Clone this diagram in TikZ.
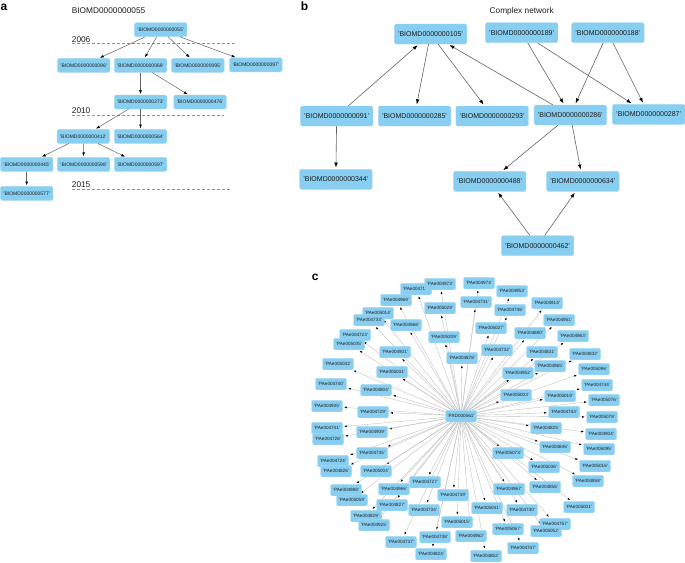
\documentclass[tikz,border=0pt]{standalone}
\usepackage{fontspec}
\setmainfont{Liberation Sans}
\usetikzlibrary{arrows.meta,backgrounds}
\definecolor{boxblue}{RGB}{135,206,240}
\definecolor{boxedge}{RGB}{165,218,246}
\definecolor{txt}{RGB}{30,30,30}
\definecolor{edgegray}{RGB}{100,100,100}
\definecolor{lightgray}{RGB}{190,190,190}
\definecolor{dashblue}{RGB}{120,150,200}
\begin{document}
\begin{tikzpicture}[x=1pt,y=-1pt,
  nodebox/.style={rectangle,rounded corners=1.5pt,fill=boxblue,draw=boxedge,line width=0.4pt,text=txt,inner sep=0pt},
  abox/.style={nodebox,minimum width=52.5pt,minimum height=14pt,font=\fontsize{5}{6}\selectfont},
  bbox/.style={nodebox,minimum width=72.5pt,minimum height=20pt,font=\fontsize{7}{8}\selectfont},
  cbox/.style={nodebox,minimum width=31pt,minimum height=11.5pt,font=\fontsize{4.6}{5}\selectfont},
  aedge/.style={draw=edgegray,line width=0.5pt,-{Latex[length=3.8pt,width=2.8pt,color=black]},shorten >=0.8pt},
  bedge/.style={draw=edgegray,line width=0.6pt,-{Latex[length=5pt,width=3.6pt,color=black]},shorten >=1.5pt},
  cedge/.style={draw=lightgray,line width=0.35pt,-{Latex[length=2.6pt,width=1.9pt,color=black]},shorten >=1.5pt},
  yearline/.style={draw=dashblue,line width=0.5pt,dash pattern=on 3pt off 2pt},
  plabel/.style={font=\fontsize{12}{14}\selectfont\bfseries,anchor=base west,inner sep=0pt},
  ptitle/.style={font=\fontsize{8.3}{10}\selectfont,text=txt,inner sep=0pt}
]
\useasboundingbox (0,0) rectangle (685,562);

% ---------------- panel a ----------------
\node[plabel] (la) at (0.5,10) {a};
\node[ptitle,anchor=west] (ta) at (71.7,10.7) {BIOMD0000000055};
\node[ptitle,anchor=west] (y06) at (71.7,39.3) {2006};
\node[ptitle,anchor=west] (y10) at (71.7,110.8) {2010};
\node[ptitle,anchor=west] (y15) at (71.7,185) {2015};
\coordinate (d06a) at (71.7,43.3); \coordinate (d06b) at (235,43.3);
\coordinate (d10a) at (71.7,115); \coordinate (d10b) at (224,115);
\coordinate (d15a) at (71.7,189.3); \coordinate (d15b) at (231.7,189.3);

\node[abox] (a055) at (160.7,29.7) {'BIOMD0000000055'};
\node[abox] (a096) at (83.7,65.3) {'BIOMD0000000096'};
\node[abox] (a069) at (140.5,65.3) {'BIOMD0000000069'};
\node[abox] (a095) at (197.8,65.3) {'BIOMD0000000095'};
\node[abox] (a097) at (255.8,64.8) {'BIOMD0000000097'};
\node[abox] (a273) at (140.5,102) {'BIOMD0000000273'};
\node[abox] (a476) at (200,102) {'BIOMD0000000476'};
\node[abox] (a412) at (83.3,136.3) {'BIOMD0000000412'};
\node[abox] (a564) at (140.5,136.3) {'BIOMD0000000564'};
\node[abox] (a445) at (26.7,164.3) {'BIOMD0000000445'};
\node[abox] (a598) at (83.7,164.3) {'BIOMD0000000598'};
\node[abox] (a597) at (140.5,164.3) {'BIOMD0000000597'};
\node[abox] (a577) at (26.7,193.3) {'BIOMD0000000577'};

% ---------------- panel b ----------------
\node[plabel] (lb) at (300.7,10) {b};
\node[ptitle] (tb) at (521.7,11) {Complex network};
\node[bbox] (b105) at (430.5,34) {'BIOMD0000000105'};
\node[bbox] (b189) at (521.7,32.7) {'BIOMD0000000189'};
\node[bbox] (b188) at (607.8,32.7) {'BIOMD0000000188'};
\node[bbox] (b091) at (336.7,116) {'BIOMD0000000091'};
\node[bbox] (b285) at (414.5,116) {'BIOMD0000000285'};
\node[bbox] (b293) at (492.2,116) {'BIOMD0000000293'};
\node[bbox] (b286) at (570.3,115) {'BIOMD0000000286'};
\node[bbox] (b287) at (648.7,114.3) {'BIOMD0000000287'};
\node[bbox] (b344) at (335.8,179.3) {'BIOMD0000000344'};
\node[bbox] (b488) at (489.7,181.3) {'BIOMD0000000488'};
\node[bbox] (b634) at (582.8,181.3) {'BIOMD0000000634'};
\node[bbox] (b462) at (537.5,245.7) {'BIOMD0000000462'};

% ---------------- panel c ----------------
\node[plabel] (lc) at (311.7,280) {c};
\def\clist{4713/416/289, 4973/440/284, 4974/479/283, 4953/512/291, 4969/396/300,
 4731/476/302, 4914/547/303, 5029/440/308, 4748/510/310, 5014/378/313,
 4733/369/320, 4951/559/320, 4968/406/325, 5027/491/328, 4880/530/333,
 4723/355/335, 4963/573/336, 5209/444/337, 5035/349/344, 4732/497/350,
 4901/395/352, 4831/542/352, 4832/585/354, 4878/462/358, 5042/338/364,
 4965/550/366, 5096/594/369, 5031/392/372, 4952/518/373, 4740/331/384,
 4744/597/385, 4804/376/390, 5003/516/395, 5019/560/396, 5076/604/400,
 4935/327/406, 4729/373/412, 4743/564/412, 5078/602/417, 4741/327/428,
 4825/546/428, 4909/372/432, 4904/601/434, 4728/328/439, 4846/555/447,
 5095/599/449, 4735/372/453, 5073/508/453, 4724/333/461, 5016/595/466,
 5036/544/467, 4826/336/471, 5004/376/471, 4858/588/481, 4727/425/482,
 4856/545/487, 4966/394/489, 4988/346/490, 4967/509/489, 4739/453/495,
 5059/352/500, 4827/392/505, 5001/579/507, 5041/487/508, 4734/424/510,
 4730/522/510, 4829/366/516, 5015/457/522, 4757/555/524, 4925/374/525,
 5067/508/529, 5052/546/531, 4962/471/536, 4738/435/537, 4737/401/542,
 4747/523/548, 4824/431/554, 4852/486/556}
\foreach \n/\x/\y in \clist {
  \node[cbox] (p\n) at (\x,\y) {'PAe00\n'};
}
\node[cbox] (c0) at (461,416) {'PXD000561'};

% ---------------- connectors (behind the boxes) ----------------
\begin{pgfonlayer}{background}
\fill[white] (0,0) rectangle (685,562);
\draw[yearline] (d06a) -- (d06b);
\draw[yearline] (d10a) -- (d10b);
\draw[yearline] (d15a) -- (d15b);
\foreach \n/\x/\y in \clist {
  \draw[cedge] (c0) -- (p\n);
}
\end{pgfonlayer}

\draw[aedge] (a055) -- (a096);
\draw[aedge] (a055) -- (a069);
\draw[aedge] (a055) -- (a095);
\draw[aedge] (a055) -- (a097);
\draw[aedge] (a069) -- (a273);
\draw[aedge] (a069) -- (a476);
\draw[aedge] (a273) -- (a412);
\draw[aedge] (a273) -- (a564);
\draw[aedge] (a412) -- (a445);
\draw[aedge] (a412) -- (a598);
\draw[aedge] (a412) -- (a597);
\draw[aedge] (a445) -- (a577);

\draw[bedge] (b091) -- (b105);
\draw[bedge] (b105) -- (b285);
\draw[bedge] (b105) -- (b293);
\draw[bedge] (b286) -- (b105);
\draw[bedge] (b189) -- (b286);
\draw[bedge] (b189) -- (b287);
\draw[bedge] (b188) -- (b286);
\draw[bedge] (b188) -- (b287);
\draw[bedge] (b091) -- (b344);
\draw[bedge] (b286) -- (b488);
\draw[bedge] (b286) -- (b634);
\draw[bedge] (b462) -- (b488);
\draw[bedge] (b462) -- (b634);
\end{tikzpicture}
\end{document}
